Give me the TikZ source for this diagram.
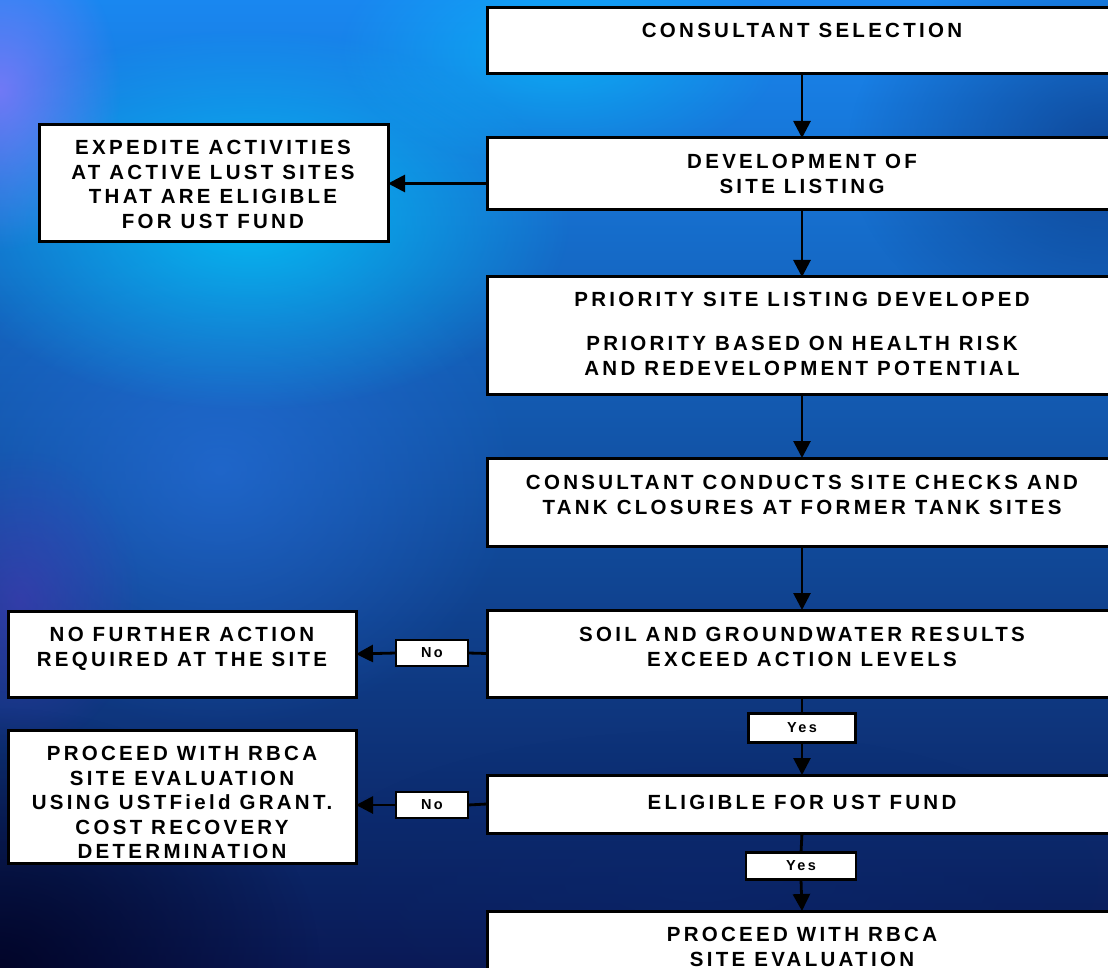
\documentclass[tikz,border=0pt]{standalone}
\usepackage{fontspec}
\setmainfont{Liberation Sans}
\newfontfamily\boxfont[LetterSpace=16]{Liberation Sans}
\usetikzlibrary{arrows.meta,fadings}
\tikzfading[name=softblob, inner color=transparent!0, outer color=transparent!100]
\definecolor{bgtop}{RGB}{25,135,240}
\definecolor{bgmid}{RGB}{20,85,195}
\definecolor{bgbot}{RGB}{10,25,85}
\definecolor{cyanblob}{RGB}{0,210,255}
\definecolor{purpblob}{RGB}{150,120,255}
\definecolor{violblob}{RGB}{90,50,190}
\definecolor{darkblob}{RGB}{0,0,30}
\definecolor{navyblob}{RGB}{10,40,110}
\definecolor{midblob}{RGB}{40,115,225}
\tikzset{
  box/.style={draw=black, fill=white, line width=3pt, inner sep=0pt, outer sep=0pt, anchor=north west},
  txt/.style={font=\boxfont\bfseries\fontsize{20.5}{24.5}\selectfont, align=center, inner sep=0pt, anchor=north},
  tag/.style={draw=black, fill=white, line width=2.5pt, inner sep=0pt, outer sep=0pt,
    font=\boxfont\bfseries\fontsize{14.5}{16}\selectfont},
  link/.style={line width=2.8pt},
  arr/.style={line width=2.8pt, -{Triangle[length=17pt,width=17pt]}},
  blob/.style={path fading=softblob}
}
\begin{document}
\begin{tikzpicture}[x=1pt,y=-1pt]
\useasboundingbox (0,0) rectangle (1108,968);
\clip (0,0) rectangle (1108,968);
% background
\shade[top color=bgtop, middle color=bgmid, bottom color=bgbot] (0,0) rectangle (1108,968);
\fill[midblob, blob, opacity=0.6] (220,470) ellipse (300 and 260);
\fill[cyanblob, blob, opacity=0.75] (250,220) ellipse (320 and 190);
\fill[cyanblob, blob, opacity=0.5] (560,50) ellipse (220 and 120);
\fill[purpblob, blob, opacity=0.7] (0,90) ellipse (120 and 160);
\fill[violblob, blob, opacity=0.45] (20,600) ellipse (120 and 150);
\fill[darkblob, blob, opacity=0.8] (0,968) ellipse (320 and 260);
\fill[navyblob, blob, opacity=0.6] (1108,150) ellipse (260 and 200);
\fill[navyblob, blob, opacity=0.5] (700,880) ellipse (400 and 150);

% boxes
\node[box, minimum width=630pt, minimum height=66pt] (cs) at (487,8) {};
\node[box, minimum width=630pt, minimum height=72pt] (dev) at (487,138) {};
\node[box, minimum width=349pt, minimum height=117pt] (exp) at (39,125) {};
\node[box, minimum width=630pt, minimum height=117pt] (pri) at (487,277) {};
\node[box, minimum width=630pt, minimum height=88pt] (cons) at (487,458) {};
\node[box, minimum width=630pt, minimum height=87pt] (soil) at (487,610) {};
\node[box, minimum width=348pt, minimum height=86pt] (nfa) at (8,611) {};
\node[box, minimum width=630pt, minimum height=58pt] (elig) at (487,775) {};
\node[box, minimum width=348pt, minimum height=133pt] (prl) at (8,730) {};
\node[box, minimum width=630pt, minimum height=80pt] (prb) at (487,911) {};

% labels on connectors
\node[tag, minimum width=72pt, minimum height=26pt] (no1) at (432,653) {No};
\node[tag, minimum width=107pt, minimum height=29pt, text depth=-3pt] (yes1) at (802,728) {Yes};
\node[tag, minimum width=72pt, minimum height=26pt] (no2) at (432,805) {No};
\node[tag, minimum width=110pt, minimum height=27pt] (yes2) at (801,866) {Yes};

% texts
\node[txt] (tcs) at (802,23) {CONSULTANT SELECTION};
\node[txt] (tdev) at (802,154) {DEVELOPMENT OF\\SITE LISTING};
\node[txt] (texp) at (213,140) {EXPEDITE ACTIVITIES\\AT ACTIVE LUST SITES\\THAT ARE ELIGIBLE\\FOR UST FUND};
\node[txt] (tpri) at (802,292) {PRIORITY SITE LISTING DEVELOPED\\[19.5pt]PRIORITY BASED ON HEALTH RISK\\AND REDEVELOPMENT POTENTIAL};
\node[txt] (tcons) at (802,475) {CONSULTANT CONDUCTS SITE CHECKS AND\\TANK CLOSURES AT FORMER TANK SITES};
\node[txt] (tsoil) at (802,627) {SOIL AND GROUNDWATER RESULTS\\EXCEED ACTION LEVELS};
\node[txt] (tnfa) at (182,627) {NO FURTHER ACTION\\REQUIRED AT THE SITE};
\node[txt] (telig) at (802,795) {ELIGIBLE FOR UST FUND};
\node[txt] (tprl) at (182,746) {PROCEED WITH RBCA\\SITE EVALUATION\\USING USTField GRANT.\\COST RECOVERY\\DETERMINATION};
\node[txt] (tprb) at (802,927) {PROCEED WITH RBCA\\SITE EVALUATION};

% connectors
\draw[arr] (cs.south) -- (dev.north);
\draw[arr] (dev.west |- exp.east) -- (exp.east);
\draw[arr] (dev.south) -- (pri.north);
\draw[arr] (pri.south) -- (cons.north);
\draw[arr] (cons.south) -- (soil.north);
\draw[link] (soil.west) -- (no1.east);
\draw[arr] (no1.west) -- (nfa.east);
\draw[link] (soil.south) -- (yes1.north);
\draw[arr] (yes1.south) -- (elig.north);
\draw[link] (elig.west) -- (no2.east);
\draw[arr] (no2.west) -- (prl.east |- no2.west);
\draw[link] (elig.south) -- (yes2.north);
\draw[arr] (yes2.south) -- (prb.north);
\end{tikzpicture}
\end{document}
